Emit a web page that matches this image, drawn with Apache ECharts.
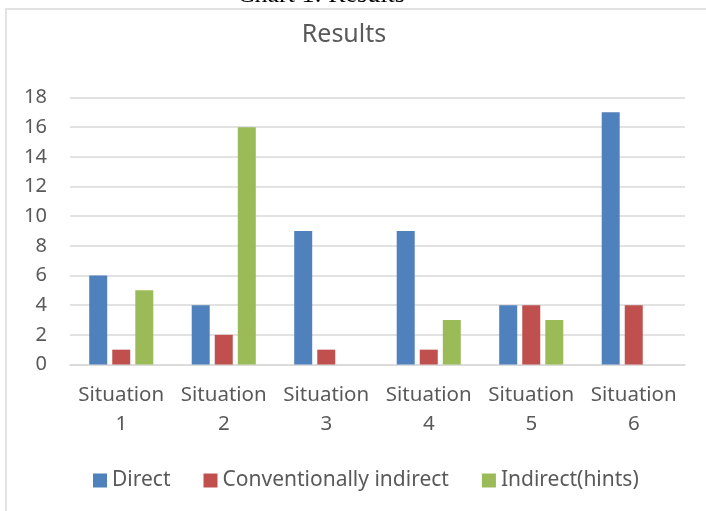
<!DOCTYPE html>
<html>
<head>
<meta charset="utf-8">
<script src="https://cdn.jsdelivr.net/npm/echarts@6/dist/echarts.min.js"></script>
<style>
  html, body { margin: 0; padding: 0; background: #ffffff; }
  #chart { width: 706px; height: 511px; }
</style>
</head>
<body>
<div id="chart"></div>
<script>
// Category labels and counts per response strategy
const categories = ['Situation\n1', 'Situation\n2', 'Situation\n3', 'Situation\n4', 'Situation\n5', 'Situation\n6'];
const seriesNames = ['Direct', 'Conventionally indirect', 'Indirect(hints)'];
const directValues = [6, 4, 9, 9, 4, 17];
const conventionalValues = [1, 2, 1, 1, 4, 4];
const hintValues = [5, 16, null, 3, 3, null];
const yMin = 0, yMax = 18, yStep = 2;

const textColor = '#595959';
const gridColor = '#D9D9D9';
const fontFamily = '"Noto Sans", "Open Sans", sans-serif';

const chart = echarts.init(document.getElementById('chart'), null, { renderer: 'canvas' });

chart.setOption({
  animation: false,
  backgroundColor: '#ffffff',
  textStyle: { fontFamily: fontFamily, color: textColor },
  title: {
    text: 'Results',
    left: 339,
    textAlign: 'center',
    top: 17,
    textStyle: { fontFamily: fontFamily, fontSize: 25, fontWeight: 'normal', color: textColor }
  },
  graphic: [
    {
      type: 'rect',
      shape: { x: 6, y: 9, width: 900, height: 700 },
      style: { fill: 'none', stroke: gridColor, lineWidth: 1.5 },
      silent: true,
      z: -1
    },
    {
      type: 'text',
      x: 321,
      y: -5,
      style: {
        text: 'Chart 1: Results',
        fontFamily: '"Liberation Serif", "DejaVu Serif", serif',
        fontSize: 26,
        fill: '#000000',
        align: 'center',
        verticalAlign: 'middle'
      },
      silent: true
    }
  ],
  legend: {
    data: seriesNames,
    left: 88,
    top: 465,
    itemWidth: 14,
    itemHeight: 14,
    itemGap: 33,
    icon: 'rect',
    textStyle: { fontFamily: fontFamily, fontSize: 21, color: textColor }
  },
  grid: {
    left: 70,
    right: 21,
    top: 97.5,
    bottom: 146.5,
    containLabel: false
  },
  xAxis: {
    type: 'category',
    data: categories,
    axisLine: { show: true, lineStyle: { color: gridColor, width: 1.5 } },
    axisTick: { show: false },
    axisLabel: {
      fontFamily: fontFamily,
      fontSize: 20.5,
      color: textColor,
      lineHeight: 29,
      margin: 16,
      interval: 0
    }
  },
  yAxis: {
    type: 'value',
    min: yMin,
    max: yMax,
    interval: yStep,
    axisLine: { show: false },
    axisTick: { show: false },
    splitLine: { lineStyle: { color: gridColor, width: 1.5 } },
    axisLabel: { fontFamily: fontFamily, fontSize: 20, color: textColor, margin: 23 }
  },
  series: [
    {
      name: seriesNames[0],
      type: 'bar',
      data: directValues,
      barWidth: 18,
      barGap: '28%',
      itemStyle: { color: '#4F81BD' }
    },
    {
      name: seriesNames[1],
      type: 'bar',
      data: conventionalValues,
      barWidth: 18,
      barGap: '28%',
      itemStyle: { color: '#C0504D' }
    },
    {
      name: seriesNames[2],
      type: 'bar',
      data: hintValues,
      barWidth: 18,
      barGap: '28%',
      itemStyle: { color: '#9BBB59' }
    }
  ]
});
</script>
</body>
</html>
